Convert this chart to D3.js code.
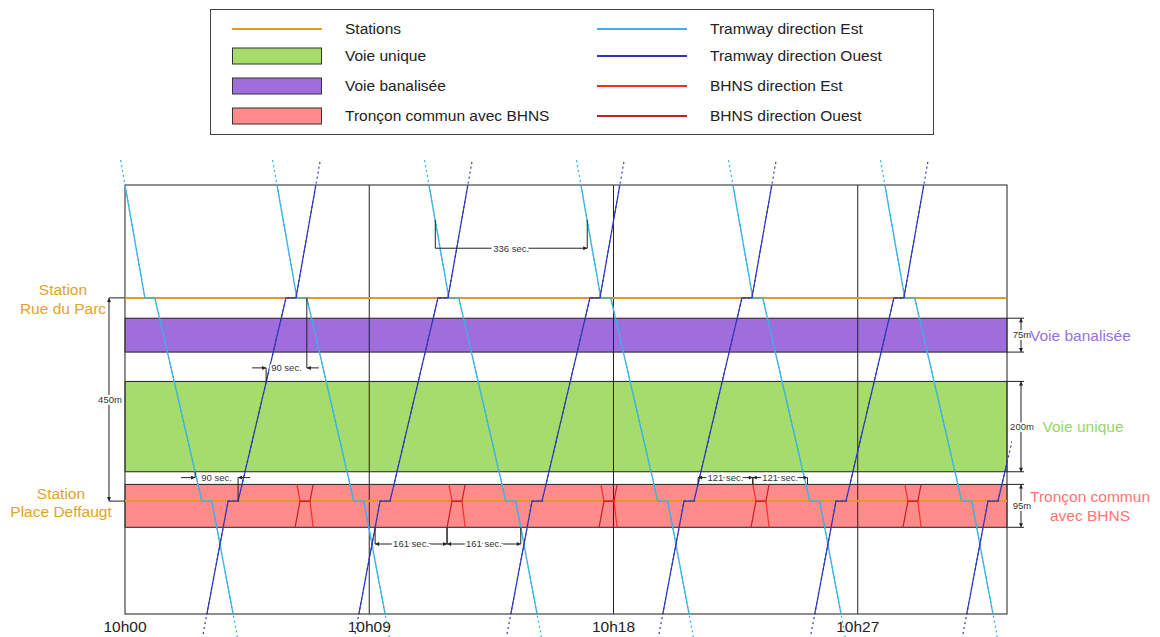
<!DOCTYPE html>
<html lang="fr">
<head>
  <meta charset="UTF-8">
  <title>Graphique espace-temps tramway / BHNS</title>
  <script src="https://d3js.org/d3.v7.min.js"></script>
  <style>
    body { margin: 0; background: #fff; }
    svg { display: block; font-family: "Liberation Sans", Arial, sans-serif; }
    .small { font-size: 9.5px; fill: #333; paint-order: stroke; stroke: #fff; stroke-width: 4px; }
    .dim { stroke: #222; stroke-width: 1; fill: none; }
  </style>
</head>
<body>
  <div id="chart"></div>
  <script>
    // Axis ticks
    const tickTimes = [0, 540, 1080, 1620];
    const tickLabels = ["10h00", "10h09", "10h18", "10h27"];

    // Stations (position in m from Rue du Parc)
    const stationNames = [["Station", "Rue du Parc"], ["Station", "Place Deffaugt"]];
    const stationPos = [0, 450];

    // Track zones
    const zoneNames = ["Voie banalisée", "Voie unique", "Tronçon commun avec BHNS"];
    const zoneFrom = [45, 185, 413];
    const zoneTo = [120, 385, 508];
    const zoneLengths = ["75m", "200m", "95m"];

    // Tram runs: start time (s after 10h00) + profile [offset s, position m]
    const tramEstStarts = [0, 336, 672, 1008, 1344, 1680];
    const tramEstProfile = [[0, -250], [44, 0], [66, 0], [170, 450], [192, 450], [239, 700]];
    const tramOuestStarts = [181, 517, 853, 1189, 1525, 1861];
    const tramOuestProfile = [[0, 700], [47, 450], [69, 450], [175, 0], [197, 0], [241, -250]];

    // BHNS runs (centre time of the stop) + profiles
    const bhnsCenters = [398, 734, 1070, 1406, 1742];
    const bhnsEstProfile = [[-18, 413], [-11, 450], [11, 450], [18, 508]];
    const bhnsOuestProfile = [[-22, 508], [-11, 450], [11, 450], [18, 413]];

    // Time gap annotations
    const gapLabels = ["336 sec.", "90 sec.", "90 sec.", "161 sec.", "161 sec.", "121 sec.", "121 sec."];
    const gapFrom = [686, 312, 155, 553, 712, 1267, 1388];
    const gapTo = [1022, 402, 250, 712, 875, 1388, 1509];
    const gapLevel = [-110, 155, 398, 545, 545, 398, 398];
    const gapFromAnchor = [-172, 185, 385, 508, 508, 413, 413];
    const gapToAnchor = [-172, 0, 450, 508, 508, 413, 413];
    const gapArrows = ["end", "outside", "outside", "both", "both", "both", "both"];

    // Legend
    const legendLeft = ["Stations", "Voie unique", "Voie banalisée", "Tronçon commun avec BHNS"];
    const legendRight = ["Tramway direction Est", "Tramway direction Ouest", "BHNS direction Est", "BHNS direction Ouest"];

    const colors = {
      station: "#e39a1f", unique: "#a5dc6c", banal: "#a06edc", tronc: "#ff8b8b",
      tramEst: "#3ab2e6", tramOuest: "#2e36b8", bhnsEst: "#ff2a2a", bhnsOuest: "#c81e2a",
      stationText: "#e2a42b", banalText: "#9872da", uniqueText: "#97d66b", troncText: "#ff7474"
    };
    const zoneColors = [colors.banal, colors.unique, colors.tronc];

    const width = 1160, height = 637;
    const frame = { left: 125, right: 1007, top: 185, bottom: 614 };

    const svg = d3.select("#chart").append("svg")
      .attr("width", width).attr("height", height);

    const x = d3.scaleLinear().domain([0, 1950]).range([frame.left, frame.right]);
    const y = d3.scaleLinear().domain([-250, 700]).range([frame.top, frame.bottom]);

    const defs = svg.append("defs");
    defs.append("clipPath").attr("id", "clipFrame").append("rect")
      .attr("x", frame.left).attr("y", frame.top)
      .attr("width", frame.right - frame.left).attr("height", frame.bottom - frame.top);
    defs.append("clipPath").attr("id", "clipWide").append("rect")
      .attr("x", 0).attr("y", 160).attr("width", frame.right + 5).attr("height", 500);
    defs.append("marker").attr("id", "arr")
      .attr("viewBox", "0 0 10 10").attr("refX", 10).attr("refY", 5)
      .attr("markerUnits", "userSpaceOnUse").attr("markerWidth", 6).attr("markerHeight", 4)
      .attr("orient", "auto-start-reverse")
      .append("path").attr("d", "M0,0 L10,5 L0,10 z").attr("fill", "#222");

    // ---- Legend ----
    const lg = svg.append("g");
    lg.append("rect").attr("x", 210.5).attr("y", 9.5).attr("width", 723).attr("height", 125)
      .attr("fill", "#fff").attr("stroke", "#444");
    const rowY = [29, 56, 86, 116];
    legendLeft.forEach((name, i) => {
      if (i === 0) {
        lg.append("line").attr("x1", 232).attr("x2", 322).attr("y1", rowY[i]).attr("y2", rowY[i])
          .attr("stroke", colors.station).attr("stroke-width", 2);
      } else {
        lg.append("rect").attr("x", 232.5).attr("y", rowY[i] - 8).attr("width", 89).attr("height", 16)
          .attr("fill", [null, colors.unique, colors.banal, colors.tronc][i]).attr("stroke", "#333");
      }
      lg.append("text").attr("x", 345).attr("y", rowY[i]).attr("dy", "0.35em")
        .attr("font-size", 15.5).attr("fill", "#222").text(name);
    });
    const rightCols = [colors.tramEst, colors.tramOuest, colors.bhnsEst, colors.bhnsOuest];
    legendRight.forEach((name, i) => {
      lg.append("line").attr("x1", 597).attr("x2", 687).attr("y1", rowY[i]).attr("y2", rowY[i])
        .attr("stroke", rightCols[i]).attr("stroke-width", 2);
      lg.append("text").attr("x", 710).attr("y", rowY[i]).attr("dy", "0.35em")
        .attr("font-size", 15.5).attr("fill", "#222").text(name);
    });

    // ---- Zones ----
    svg.append("g").selectAll("rect").data(zoneNames).join("rect")
      .attr("x", frame.left).attr("width", frame.right - frame.left)
      .attr("y", (d, i) => y(zoneFrom[i]))
      .attr("height", (d, i) => y(zoneTo[i]) - y(zoneFrom[i]))
      .attr("fill", (d, i) => zoneColors[i])
      .attr("stroke", "#222").attr("stroke-width", 1);

    // ---- Grid (time) ----
    svg.append("g").selectAll("line").data(tickTimes.slice(1)).join("line")
      .attr("x1", d => x(d)).attr("x2", d => x(d))
      .attr("y1", frame.top).attr("y2", frame.bottom)
      .attr("stroke", "#222").attr("stroke-width", 1);

    svg.append("rect").attr("x", frame.left).attr("y", frame.top)
      .attr("width", frame.right - frame.left).attr("height", frame.bottom - frame.top)
      .attr("fill", "none").attr("stroke", "#444").attr("stroke-width", 1.2);

    svg.append("g").selectAll("text").data(tickTimes).join("text")
      .attr("x", d => x(d)).attr("y", 632).attr("text-anchor", "middle")
      .attr("font-size", 15.5).attr("fill", "#222")
      .text((d, i) => tickLabels[i]);

    // ---- Stations ----
    svg.append("g").selectAll("line").data(stationPos).join("line")
      .attr("x1", frame.left).attr("x2", frame.right)
      .attr("y1", d => y(d)).attr("y2", d => y(d))
      .attr("stroke", colors.station).attr("stroke-width", 2);

    const stLabelX = [63, 61];
    stationNames.forEach((lines, i) => {
      const t = svg.append("text").attr("text-anchor", "middle")
        .attr("font-size", 15.5).attr("fill", colors.stationText);
      lines.forEach((s, j) => {
        t.append("tspan").attr("x", stLabelX[i]).attr("y", y(stationPos[i]) - 8 + j * 18.5)
          .attr("dy", "0.35em").text(s);
      });
    });

    // ---- Runs ----
    const line = d3.line().x(d => x(d[0])).y(d => y(d[1]));
    function extend(pts) {
      const ext = 55;
      const a = pts[0], b = pts[1];
      const c = pts[pts.length - 2], e = pts[pts.length - 1];
      const s0 = (b[0] - a[0]) / Math.abs(b[1] - a[1]);
      const s1 = (e[0] - c[0]) / Math.abs(e[1] - c[1]);
      const dir0 = Math.sign(b[1] - a[1]), dir1 = Math.sign(e[1] - c[1]);
      return [[a[0] - ext * s0, a[1] - dir0 * ext], ...pts, [e[0] + ext * s1, e[1] + dir1 * ext]];
    }
    function drawRuns(starts, profile, color, w, dotted) {
      const runs = starts.map(t0 => profile.map(p => [t0 + p[0], p[1]]));
      if (dotted) {
        svg.append("g").attr("clip-path", "url(#clipWide)").selectAll("path").data(runs).join("path")
          .attr("d", d => line(extend(d))).attr("fill", "none")
          .attr("stroke", color).attr("stroke-width", w).attr("stroke-dasharray", "2,3");
      }
      svg.append("g").attr("clip-path", "url(#clipFrame)").selectAll("path").data(runs).join("path")
        .attr("d", d => line(d)).attr("fill", "none")
        .attr("stroke", color).attr("stroke-width", w);
    }
    drawRuns(tramEstStarts, tramEstProfile, colors.tramEst, 1.3, true);
    drawRuns(tramOuestStarts, tramOuestProfile, colors.tramOuest, 1.2, true);
    drawRuns(bhnsCenters, bhnsEstProfile, colors.bhnsEst, 1.2, false);
    drawRuns(bhnsCenters, bhnsOuestProfile, colors.bhnsOuest, 1.2, false);

    // ---- Gap annotations ----
    const ann = svg.append("g");
    gapLabels.forEach((lab, i) => {
      const x1 = x(gapFrom[i]), x2 = x(gapTo[i]), yl = y(gapLevel[i]);
      ann.append("line").attr("class", "dim").attr("x1", x1).attr("x2", x1)
        .attr("y1", y(gapFromAnchor[i])).attr("y2", yl);
      ann.append("line").attr("class", "dim").attr("x1", x2).attr("x2", x2)
        .attr("y1", y(gapToAnchor[i])).attr("y2", yl);
      if (gapArrows[i] === "outside") {
        ann.append("line").attr("class", "dim").attr("x1", x1 - 14).attr("x2", x1)
          .attr("y1", yl).attr("y2", yl).attr("marker-end", "url(#arr)");
        ann.append("line").attr("class", "dim").attr("x1", x2 + 12).attr("x2", x2)
          .attr("y1", yl).attr("y2", yl).attr("marker-end", "url(#arr)");
      } else {
        const l = ann.append("line").attr("class", "dim").attr("x1", x1).attr("x2", x2)
          .attr("y1", yl).attr("y2", yl).attr("marker-end", "url(#arr)");
        if (gapArrows[i] === "both") l.attr("marker-start", "url(#arr)");
      }
      ann.append("text").attr("class", "small").attr("x", (x1 + x2) / 2).attr("y", yl)
        .attr("dy", "0.35em").attr("text-anchor", "middle").text(lab);
    });

    // ---- Length dimensions ----
    const dims = svg.append("g");
    function vDim(xd, extFrom, extTo, d0, d1, label) {
      dims.append("line").attr("class", "dim").attr("x1", extFrom).attr("x2", extTo)
        .attr("y1", y(d0)).attr("y2", y(d0));
      dims.append("line").attr("class", "dim").attr("x1", extFrom).attr("x2", extTo)
        .attr("y1", y(d1)).attr("y2", y(d1));
      dims.append("line").attr("class", "dim").attr("x1", xd).attr("x2", xd)
        .attr("y1", y(d0)).attr("y2", y(d1))
        .attr("marker-start", "url(#arr)").attr("marker-end", "url(#arr)");
      dims.append("text").attr("class", "small").attr("x", xd + 1).attr("y", (y(d0) + y(d1)) / 2)
        .attr("dy", "0.35em").attr("text-anchor", "middle").text(label);
    }
    vDim(109, 109, frame.left, stationPos[0], stationPos[1], "450m");
    zoneNames.forEach((z, i) => vDim(1021, frame.right, 1024, zoneFrom[i], zoneTo[i], zoneLengths[i]));

    // ---- Zone labels (right) ----
    const zy = i => y((zoneFrom[i] + zoneTo[i]) / 2);
    svg.append("text").attr("x", 1030).attr("y", zy(0)).attr("dy", "0.35em")
      .attr("font-size", 15.5).attr("fill", colors.banalText).text(zoneNames[0]);
    svg.append("text").attr("x", 1083).attr("y", zy(1)).attr("dy", "0.35em").attr("text-anchor", "middle")
      .attr("font-size", 15.5).attr("fill", colors.uniqueText).text(zoneNames[1]);
    const tr = svg.append("text").attr("text-anchor", "middle")
      .attr("font-size", 15.5).attr("fill", colors.troncText);
    ["Tronçon commun", "avec BHNS"].forEach((s, j) => {
      tr.append("tspan").attr("x", 1090).attr("y", zy(2) - 9.5 + j * 19).attr("dy", "0.35em").text(s);
    });
  </script>
</body>
</html>
